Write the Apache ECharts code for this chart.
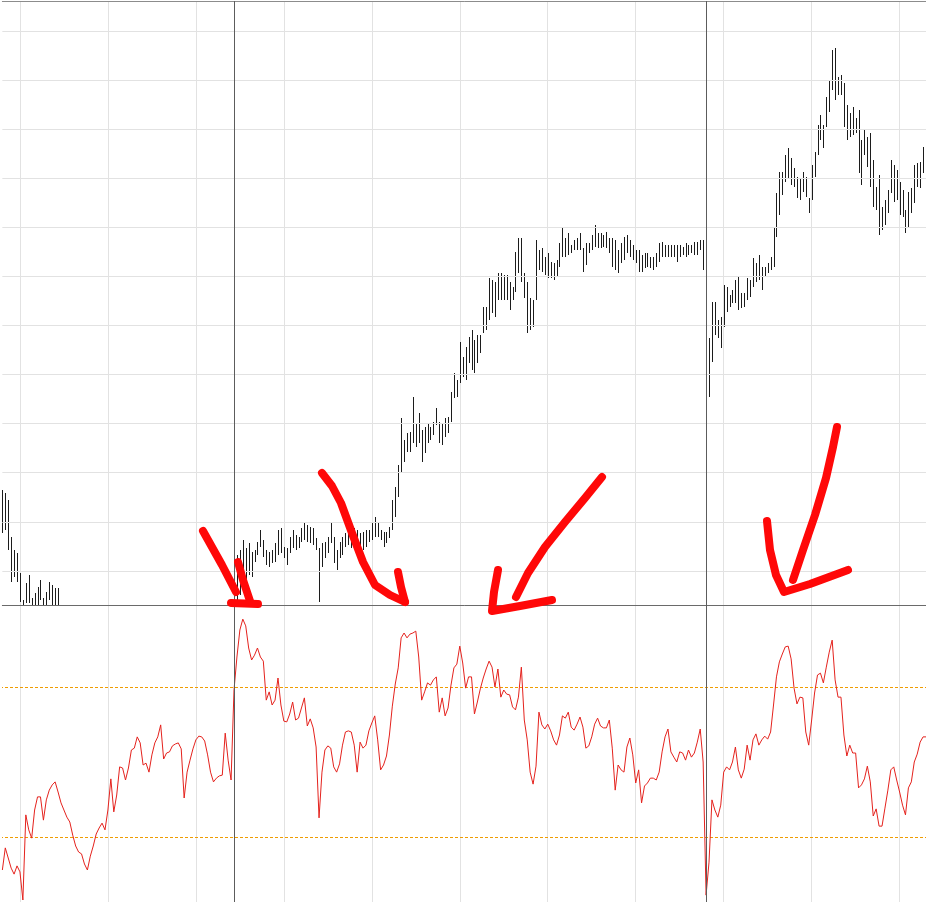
<!DOCTYPE html>
<html>
<head>
<meta charset="utf-8">
<style>
  html, body { margin: 0; padding: 0; background: #fff; }
  #chart { width: 926px; height: 902px; }
</style>
<script src="https://cdn.jsdelivr.net/npm/echarts@6/dist/echarts.min.js"></script>
</head>
<body>
<div id="chart"></div>
<script>
// bar highs / lows (null = bar below the visible price range)
const highs = [
  1115, 1112, 1105, 1068, 1055, 1052, 1032, 1005, 1022, 1030,
  1007, 1012, 1018, 1025, 1007, 1013, 1023, 1020, 1017, 1017,
  null, null, null, null, null, null, null, null, null, null,
  null, null, null, null, null, null, null, null, null, null,
  null, null, null, null, null, null, null, null, null, null,
  null, null, null, null, null, null, null, null, null, null,
  null, null, null, null, null, null, null, null, null, null,
  null, null, null, null, null, null, null, null, null, 1030,
  1050, 1055, 1065, 1057, 1062, 1053, 1055, 1063, 1075, 1065,
  1055, 1053, 1055, 1062, 1075, 1077, 1058, 1057, 1068, 1075,
  1070, 1068, 1077, 1082, 1080, 1078, 1077, 1067, 1057, 1062,
  1063, 1068, 1083, 1068, 1055, 1063, 1068, 1072, 1073, 1075,
  1077, 1075, 1072, 1073, 1075, 1075, 1082, 1088, 1082, 1075,
  1073, 1073, 1078, 1105, 1118, 1140, 1187, 1165, 1172, 1173,
  1208, 1182, 1192, 1175, 1178, 1182, 1178, 1183, 1197, 1183,
  1182, 1187, 1188, 1213, 1232, 1225, 1263, 1248, 1258, 1268,
  1275, 1265, 1270, 1270, 1298, 1298, 1327, 1325, 1323, 1332,
  1332, 1330, 1330, 1323, 1318, 1353, 1367, 1367, 1332, 1323,
  1307, 1305, 1365, 1355, 1357, 1348, 1352, 1343, 1342, 1345,
  1362, 1378, 1367, 1372, 1360, 1365, 1367, 1372, 1357, 1362,
  1362, 1370, 1380, 1372, 1372, 1370, 1373, 1367, 1367, 1365,
  1355, 1362, 1368, 1370, 1365, 1360, 1355, 1355, 1350, 1352,
  1352, 1348, 1348, 1352, 1362, 1363, 1360, 1360, 1360, 1360,
  1360, 1360, 1358, 1362, 1360, 1360, 1363, 1363, 1365, 1365,
  1305, 1267, 1303, 1303, 1285, 1288, 1320, 1318, 1310, 1315,
  1325, 1328, 1312, 1312, 1327, 1325, 1347, 1342, 1350, 1338,
  1338, 1342, 1348, 1377, 1412, 1433, 1433, 1450, 1457, 1447,
  1437, 1428, 1427, 1433, 1428, 1407, 1440, 1453, 1480, 1490,
  1480, 1508, 1525, 1555, 1557, 1528, 1530, 1522, 1500, 1492,
  1498, 1487, 1495, 1465, 1475, 1468, 1472, 1445, 1418, 1430,
  1398, 1405, 1415, 1445, 1440, 1435, 1423, 1415, 1395, 1413,
  1417, 1440, 1442, 1443, 1458, null
];
const lows = [
  1072, 1075, 1055, 1023, 1028, 1023, 1003, 993, 1002, 1002,
  993, 997, 997, 1005, 997, 997, 1005, 997, 997, 997,
  null, null, null, null, null, null, null, null, null, null,
  null, null, null, null, null, null, null, null, null, null,
  null, null, null, null, null, null, null, null, null, null,
  null, null, null, null, null, null, null, null, null, null,
  null, null, null, null, null, null, null, null, null, null,
  null, null, null, null, null, null, null, null, null, 993,
  1005, 1010, 1015, 1023, 1030, 1028, 1043, 1050, 1058, 1048,
  1040, 1038, 1042, 1043, 1050, 1052, 1047, 1040, 1052, 1057,
  1055, 1057, 1063, 1065, 1063, 1062, 1060, 1055, 1003, 1038,
  1047, 1052, 1062, 1042, 1035, 1047, 1050, 1058, 1060, 1057,
  1057, 1055, 1055, 1055, 1058, 1063, 1065, 1068, 1068, 1065,
  1058, 1062, 1067, 1075, 1088, 1108, 1132, 1143, 1153, 1153,
  1162, 1158, 1162, 1143, 1152, 1162, 1165, 1170, 1180, 1162,
  1160, 1168, 1172, 1183, 1207, 1208, 1222, 1228, 1225, 1242,
  1235, 1232, 1242, 1252, 1272, 1275, 1285, 1292, 1288, 1305,
  1305, 1305, 1305, 1295, 1305, 1313, 1332, 1323, 1307, 1272,
  1275, 1278, 1305, 1335, 1333, 1330, 1327, 1327, 1325, 1328,
  1338, 1348, 1348, 1350, 1352, 1355, 1355, 1355, 1333, 1340,
  1352, 1355, 1358, 1357, 1357, 1358, 1357, 1352, 1338, 1335,
  1332, 1342, 1345, 1352, 1348, 1345, 1342, 1333, 1333, 1337,
  1338, 1337, 1335, 1338, 1343, 1348, 1348, 1348, 1348, 1348,
  1343, 1348, 1350, 1348, 1350, 1352, 1350, 1350, 1355, 1335,
  1245, 1208, 1243, 1270, 1267, 1257, 1278, 1293, 1298, 1302,
  1302, 1295, 1297, 1298, 1305, 1308, 1318, 1323, 1325, 1315,
  1328, 1332, 1335, 1338, 1368, 1390, 1410, 1423, 1427, 1420,
  1418, 1407, 1405, 1413, 1408, 1392, 1405, 1428, 1450, 1465,
  1457, 1478, 1493, 1515, 1505, 1510, 1510, 1478, 1465, 1468,
  1470, 1472, 1432, 1420, 1450, 1438, 1418, 1398, 1395, 1370,
  1375, 1380, 1392, 1412, 1403, 1405, 1390, 1388, 1372, 1377,
  1392, 1402, 1418, 1417, 1432, null
];
// oscillator (RSI-like) per bar
const rsi = [
  21.2, 27.1, 24.4, 21.7, 20.1, 22.3, 20.7, 13.2, 35.9, 31.9,
  29.7, 37.2, 40.7, 40.7, 34.5, 39.9, 42.5, 43.9, 44.7, 42.0,
  39.1, 37.2, 35.3, 34.0, 30.5, 27.6, 26.0, 25.5, 22.8, 21.2,
  24.9, 27.6, 30.8, 32.4, 33.7, 31.9, 37.2, 45.5, 36.7, 41.2,
  48.7, 48.4, 45.2, 48.4, 53.2, 53.7, 56.7, 55.1, 49.2, 49.7,
  47.3, 51.9, 55.1, 56.7, 59.9, 50.8, 52.4, 52.7, 54.3, 54.8,
  55.1, 53.5, 40.4, 47.3, 50.5, 53.5, 55.9, 56.9, 56.7, 55.6,
  51.9, 47.3, 44.7, 45.7, 46.3, 46.5, 57.7, 50.5, 45.2, 69.2,
  78.0, 85.2, 88.1, 86.3, 80.4, 77.2, 78.5, 80.4, 78.0, 76.9,
  66.5, 68.7, 65.2, 66.5, 72.4, 65.2, 60.9, 60.7, 62.8, 66.0,
  61.2, 61.7, 64.4, 67.1, 59.6, 61.5, 59.1, 54.0, 35.1, 47.3,
  53.2, 54.3, 53.7, 48.7, 47.3, 49.5, 54.5, 58.0, 58.3, 58.0,
  54.5, 47.3, 55.3, 53.7, 54.5, 58.3, 60.4, 62.3, 55.9, 47.9,
  49.2, 51.6, 57.2, 64.9, 70.8, 75.1, 83.1, 84.4, 83.1, 84.1,
  84.4, 84.9, 78.0, 66.5, 68.7, 71.1, 70.5, 71.9, 72.7, 63.3,
  67.1, 62.3, 64.4, 70.5, 75.1, 76.1, 80.9, 76.4, 69.7, 72.7,
  72.7, 62.8, 66.0, 69.5, 72.4, 74.8, 76.9, 75.3, 70.0, 74.8,
  67.3, 69.2, 68.1, 67.9, 64.7, 63.9, 67.3, 75.3, 61.2, 55.9,
  47.3, 44.1, 48.9, 63.3, 59.9, 58.8, 60.1, 58.3, 55.9, 54.5,
  57.2, 62.3, 61.7, 63.3, 59.3, 58.5, 60.1, 62.0, 59.3, 53.7,
  54.3, 56.7, 60.1, 61.7, 59.6, 59.1, 59.1, 61.2, 53.7, 42.5,
  49.2, 47.9, 47.3, 54.0, 56.4, 51.9, 44.4, 47.9, 39.1, 43.6,
  44.4, 45.7, 45.7, 45.2, 47.3, 52.7, 56.7, 58.8, 52.7, 51.3,
  50.0, 52.7, 52.4, 50.5, 53.2, 51.3, 52.4, 55.3, 58.8, 50.0,
  14.5, 23.3, 39.9, 37.2, 35.3, 38.5, 47.3, 48.7, 47.9, 50.0,
  54.0, 47.9, 45.7, 48.1, 54.5, 50.5, 55.9, 57.5, 54.5, 55.9,
  56.9, 56.1, 58.0, 65.2, 72.7, 76.7, 78.8, 80.7, 80.9, 77.5,
  69.7, 65.5, 67.3, 67.1, 58.0, 54.5, 61.2, 68.4, 73.2, 73.7,
  71.1, 75.3, 79.3, 82.5, 71.9, 67.3, 67.3, 57.2, 51.6, 54.5,
  52.4, 52.4, 43.1, 43.9, 45.5, 48.9, 44.7, 35.6, 37.5, 32.9,
  32.9, 37.7, 42.5, 47.9, 48.7, 45.2, 42.0, 38.5, 35.9, 43.1,
  44.7, 50.0, 52.1, 55.3, 56.7, 56.7
];
const priceGridLevels = [1574, 1525, 1476, 1427, 1378, 1329, 1280, 1231, 1182, 1133, 1083, 1034];
const rsiLevels = [70, 30];
const separatorBars = [79, 240]; // period separators

const categories = rsi.map((_, i) => String(i));
const barData = [];
highs.forEach((h, i) => {
  if (h != null && lows[i] != null) barData.push([i, h, lows[i]]);
});

// hand-drawn red arrows on top of the chart (annotation, pixel space)
const arrowStrokes = [
  [[203, 531], [222, 565], [236, 592]],
  [[238, 562], [243, 580], [250, 601]],
  [[231, 603], [258, 604]],
  [[322, 473], [332, 486], [341, 503], [352, 533], [363, 562], [375, 585], [390, 595], [405, 602]],
  [[398, 572], [401, 587], [405, 602]],
  [[602, 477], [585, 498], [565, 522], [545, 547], [528, 573], [516, 597]],
  [[498, 570], [494, 592], [492, 611], [520, 606], [552, 600]],
  [[837, 427], [833, 447], [826, 478], [815, 515], [803, 550], [793, 580]],
  [[767, 521], [770, 550], [776, 575], [784, 592], [810, 584], [848, 570]]
];

const chart = echarts.init(document.getElementById('chart'))

const gridLineColor = '#e2e2e2'
const sepColor = '#5c5c5c'
const levelColor = '#f09c00'

const xBase = {
  type: 'category',
  data: categories,
  boundaryGap: false,
  position: 'top',
  axisTick: { show: false },
  axisLabel: { show: false },
  splitLine: {
    show: true,
    interval: (idx) => idx % 30 === 6,
    lineStyle: { color: gridLineColor, width: 1 }
  }
}

const option = {
  animation: false,
  backgroundColor: '#fff',
  grid: [
    { left: 2.36, right: -2.46, top: 1, height: 604 },
    { left: 2.36, right: -2.46, top: 605, height: 297 }
  ],
  xAxis: [
    { ...xBase, gridIndex: 0, axisLine: { show: true, lineStyle: { color: '#8c8c8c' } } },
    { ...xBase, gridIndex: 1, axisLine: { show: true, lineStyle: { color: '#6a6a6a' } } }
  ],
  yAxis: [
    { type: 'value', gridIndex: 0, min: 1000, max: 1604, show: false },
    { type: 'value', gridIndex: 1, min: 12.667, max: 91.867, show: false }
  ],
  series: [
    {
      type: 'custom',
      xAxisIndex: 0,
      yAxisIndex: 0,
      clip: true,
      encode: { x: 0, y: [1, 2] },
      data: barData,
      renderItem: (params, api) => {
        const hi = api.coord([api.value(0), api.value(1)])
        const lo = api.coord([api.value(0), api.value(2)])
        const x = Math.round(hi[0]) + 0.5
        return {
          type: 'line',
          shape: { x1: x, y1: Math.round(hi[1]), x2: x, y2: Math.round(lo[1]) },
          style: { stroke: '#1c1c1c', lineWidth: 1 }
        }
      },
      markLine: {
        silent: true,
        symbol: 'none',
        label: { show: false },
        data: [
          ...priceGridLevels.map(v => ({ yAxis: v, lineStyle: { color: gridLineColor, width: 1, type: 'solid' } })),
          ...separatorBars.map(b => ({ xAxis: b, lineStyle: { color: sepColor, width: 1, type: 'solid' } }))
        ]
      }
    },
    {
      // 70 / 30 level lines of the oscillator pane, drawn as custom dashed segments
      type: 'custom',
      xAxisIndex: 1,
      yAxisIndex: 1,
      clip: true,
      encode: { y: 0 },
      data: rsiLevels.map(v => [v]),
      renderItem: (params, api) => {
        const first = api.coord([0, api.value(0)])
        const last = api.coord([categories.length - 1, api.value(0)])
        const y = Math.round(first[1]) + 0.5
        return {
          type: 'line',
          shape: { x1: 0, y1: y, x2: last[0], y2: y },
          style: { stroke: levelColor, lineWidth: 1, lineDash: [3, 2] }
        }
      }
    },
    {
      type: 'line',
      xAxisIndex: 1,
      yAxisIndex: 1,
      data: rsi,
      symbol: 'none',
      lineStyle: { color: '#e4221d', width: 1 },
      markLine: {
        silent: true,
        symbol: 'none',
        label: { show: false },
        data: separatorBars.map(b => ({ xAxis: b, lineStyle: { color: sepColor, width: 1, type: 'solid' } }))
      }
    }
  ],
  graphic: arrowStrokes.map(pts => ({
    type: 'polyline',
    silent: true,
    z: 100,
    shape: { points: pts },
    style: { stroke: '#ff0808', lineWidth: 8, lineCap: 'round', lineJoin: 'round', fill: null }
  }))
}

chart.setOption(option)
</script>
</body>
</html>
